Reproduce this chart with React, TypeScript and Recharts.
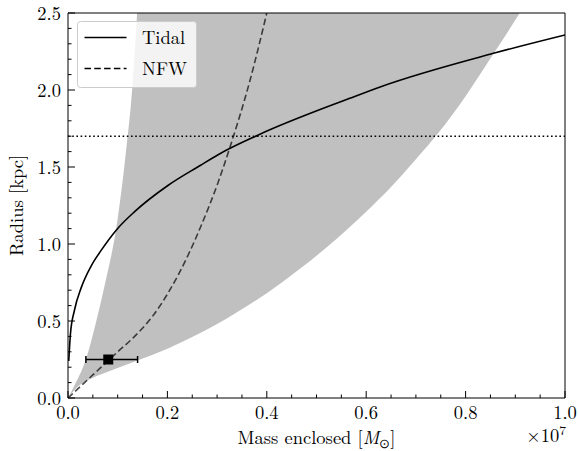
import React from 'react';
import {
  ComposedChart,
  Area,
  Line,
  Scatter,
  ErrorBar,
  XAxis,
  YAxis,
  ReferenceLine,
  Legend,
  Label,
} from 'recharts';

// mass in units of 1e7 Msun, radius in kpc
const bandLeftEdge = [
  { m: 0, r: 0 },
  { m: 0.016, r: 0.1 },
  { m: 0.036, r: 0.25 },
  { m: 0.057, r: 0.5 },
  { m: 0.075, r: 0.75 },
  { m: 0.097, r: 1.1 },
  { m: 0.117, r: 1.61 },
  { m: 0.129, r: 2.0 },
  { m: 0.139, r: 2.5 },
  { m: 0.148, r: 3.1 },
  { m: 1.0, r: 3.1 },
];

const bandLowerEdge = [
  { m: 0, r: 0 },
  { m: 0.02, r: 0.075 },
  { m: 0.04, r: 0.115 },
  { m: 0.08, r: 0.17 },
  { m: 0.141, r: 0.245 },
  { m: 0.2, r: 0.32 },
  { m: 0.3, r: 0.48 },
  { m: 0.433, r: 0.757 },
  { m: 0.514, r: 0.961 },
  { m: 0.6, r: 1.21 },
  { m: 0.65, r: 1.37 },
  { m: 0.7, r: 1.55 },
  { m: 0.745, r: 1.72 },
  { m: 0.8, r: 1.96 },
  { m: 0.856, r: 2.235 },
  { m: 0.909, r: 2.5 },
  { m: 1.0, r: 3.0 },
];

const tidal = [
  { m: 0.0015, r: 0.24 },
  { m: 0.005, r: 0.42 },
  { m: 0.013, r: 0.57 },
  { m: 0.027, r: 0.72 },
  { m: 0.047, r: 0.86 },
  { m: 0.067, r: 0.96 },
  { m: 0.097, r: 1.09 },
  { m: 0.134, r: 1.21 },
  { m: 0.201, r: 1.38 },
  { m: 0.266, r: 1.51 },
  { m: 0.302, r: 1.58 },
  { m: 0.383, r: 1.708 },
  { m: 0.567, r: 1.946 },
  { m: 0.628, r: 2.02 },
  { m: 0.856, r: 2.238 },
  { m: 1.0, r: 2.357 },
];

const nfw = [
  { m: 0, r: 0 },
  { m: 0.035, r: 0.105 },
  { m: 0.07, r: 0.21 },
  { m: 0.1, r: 0.3 },
  { m: 0.134, r: 0.4 },
  { m: 0.17, r: 0.53 },
  { m: 0.201, r: 0.68 },
  { m: 0.242, r: 0.93 },
  { m: 0.268, r: 1.12 },
  { m: 0.302, r: 1.4 },
  { m: 0.326, r: 1.63 },
  { m: 0.366, r: 2.06 },
  { m: 0.4, r: 2.5 },
];

const measured = [{ m: 0.081, r: 0.25, err: [0.045, 0.059] }];

const truncRadius = 1.7;

const legendOrder = ['Tidal', 'NFW'];

const xTicks = [
  0, 0.05, 0.1, 0.15, 0.2, 0.25, 0.3, 0.35, 0.4, 0.45, 0.5, 0.55, 0.6, 0.65,
  0.7, 0.75, 0.8, 0.85, 0.9, 0.95, 1.0,
];
const yTicks = [
  0, 0.1, 0.2, 0.3, 0.4, 0.5, 0.6, 0.7, 0.8, 0.9, 1.0, 1.1, 1.2, 1.3, 1.4, 1.5,
  1.6, 1.7, 1.8, 1.9, 2.0, 2.1, 2.2, 2.3, 2.4, 2.5,
];

const FONT = "'Latin Modern Roman'";
const FS = 18.5;
const txt = { fontFamily: FONT, fontSize: FS };
const MAJ = 7;
const MIN = 3.5;

const isMajor = (v: number, step: number) =>
  Math.abs(v / step - Math.round(v / step)) < 1e-6;

function BottomTick({ x, y, payload }: any) {
  const major = isMajor(payload.value, 0.2);
  return (
    <g>
      <line x1={x} x2={x} y1={y} y2={y - (major ? MAJ : MIN)} stroke='#000' strokeWidth={1} />
      {major && (
        <text x={x} y={y + 20.5} textAnchor='middle' style={txt} fill='#000'>
          {payload.value.toFixed(1)}
        </text>
      )}
    </g>
  );
}

function TopTick({ x, y, payload }: any) {
  const major = isMajor(payload.value, 0.2);
  return <line x1={x} x2={x} y1={y} y2={y + (major ? MAJ : MIN)} stroke='#000' strokeWidth={1} />;
}

function LeftTick({ x, y, payload }: any) {
  const major = isMajor(payload.value, 0.5);
  return (
    <g>
      <line x1={x} x2={x + (major ? MAJ : MIN)} y1={y} y2={y} stroke='#000' strokeWidth={1} />
      {major && (
        <text x={x - 7} y={y + 6.5} textAnchor='end' style={txt} fill='#000'>
          {payload.value.toFixed(1)}
        </text>
      )}
    </g>
  );
}

function RightTick({ x, y, payload }: any) {
  const major = isMajor(payload.value, 0.5);
  return <line x1={x} x2={x - (major ? MAJ : MIN)} y1={y} y2={y} stroke='#000' strokeWidth={1} />;
}

function LegendBox({ payload }: any) {
  const items = (payload || [])
    .filter((p: any) => legendOrder.includes(p.value))
    .sort((a: any, b: any) => legendOrder.indexOf(a.value) - legendOrder.indexOf(b.value));
  return (
    <svg width={121} height={68} style={{ display: 'block' }}>
      <rect x={0.5} y={0.5} width={119} height={66} rx={3} fill='rgba(255,255,255,0.8)' stroke='#cccccc' />
      {items.map((p: any, i: number) => {
        const cy = 16.5 + i * 31;
        const dash = p.payload?.strokeDasharray;
        return (
          <g key={p.value}>
            <line x1={7.5} x2={49.5} y1={cy} y2={cy} stroke='#000' strokeWidth={1.6} strokeDasharray={dash} />
            <text x={65} y={cy + 6.5} style={txt} fill='#000'>
              {p.value}
            </text>
          </g>
        );
      })}
    </svg>
  );
}

export default function App() {
  return (
    <div style={{ position: 'absolute', left: 0, top: 0 }}>
      <ComposedChart
        width={578}
        height={451}
        margin={{ top: 12, right: 12, bottom: 52, left: 67 }}
      >
        <XAxis
          xAxisId='b'
          type='number'
          dataKey='m'
          domain={[0, 1]}
          ticks={xTicks}
          interval={0}
          height={1}
          tickSize={0}
          tickMargin={0}
          tickLine={false}
          tick={(p: any) => <BottomTick {...p} />}
          axisLine={{ stroke: '#000', strokeWidth: 1 }}
          allowDataOverflow
        >
          <Label
            content={({ viewBox }: any) => (
              <text
                x={viewBox.x + viewBox.width / 2}
                y={viewBox.y + 46}
                textAnchor='middle'
                style={txt}
                fill='#000'
              >
                Mass enclosed [<tspan fontStyle='italic'>M</tspan>
                <tspan fontSize={13} dy={4}>⊙</tspan>
                <tspan dy={-4}>]</tspan>
              </text>
            )}
          />
          <Label
            content={({ viewBox }: any) => (
              <text
                x={viewBox.x + viewBox.width + 1}
                y={viewBox.y + 44}
                textAnchor='end'
                style={txt}
                fill='#000'
              >
                ×10<tspan fontSize={13.5} dy={-7}>7</tspan>
              </text>
            )}
          />
        </XAxis>
        <XAxis
          xAxisId='t'
          orientation='top'
          type='number'
          domain={[0, 1]}
          ticks={xTicks}
          interval={0}
          height={1}
          tickSize={0}
          tickMargin={0}
          tickLine={false}
          tick={(p: any) => <TopTick {...p} />}
          axisLine={{ stroke: '#000', strokeWidth: 1 }}
        />
        <YAxis
          yAxisId='l'
          type='number'
          domain={[0, 2.5]}
          ticks={yTicks}
          interval={0}
          width={1}
          tickSize={0}
          tickMargin={0}
          tickLine={false}
          tick={(p: any) => <LeftTick {...p} />}
          axisLine={{ stroke: '#000', strokeWidth: 1 }}
          allowDataOverflow
        >
          <Label
            content={({ viewBox }: any) => {
              const cx = viewBox.x - 44;
              const cy = viewBox.y + viewBox.height / 2;
              return (
                <text
                  x={cx}
                  y={cy}
                  transform={`rotate(-90, ${cx}, ${cy})`}
                  textAnchor='middle'
                  style={txt}
                  fill='#000'
                >
                  Radius [kpc]
                </text>
              );
            }}
          />
        </YAxis>
        <YAxis
          yAxisId='r'
          orientation='right'
          type='number'
          domain={[0, 2.5]}
          ticks={yTicks}
          interval={0}
          width={1}
          tickSize={0}
          tickMargin={0}
          tickLine={false}
          tick={(p: any) => <RightTick {...p} />}
          axisLine={{ stroke: '#000', strokeWidth: 1 }}
        />

        <Area
          xAxisId='b'
          yAxisId='l'
          data={bandLeftEdge}
          dataKey='r'
          type='monotone'
          stroke='none'
          fill='#c0c0c0'
          fillOpacity={1}
          legendType='none'
          isAnimationActive={false}
          dot={false}
          activeDot={false}
        />
        <Area
          xAxisId='b'
          yAxisId='l'
          data={bandLowerEdge}
          dataKey='r'
          type='monotone'
          stroke='none'
          fill='#ffffff'
          fillOpacity={1}
          legendType='none'
          isAnimationActive={false}
          dot={false}
          activeDot={false}
        />
        <ReferenceLine
          xAxisId='b'
          yAxisId='l'
          y={truncRadius}
          stroke='#000'
          strokeWidth={1.6}
          strokeDasharray='1.6 2.6'
        />
        <Line
          xAxisId='b'
          yAxisId='l'
          name='Tidal'
          data={tidal}
          dataKey='r'
          type='monotone'
          stroke='#000'
          strokeWidth={1.6}
          dot={false}
          activeDot={false}
          isAnimationActive={false}
        />
        <Line
          xAxisId='b'
          yAxisId='l'
          name='NFW'
          data={nfw}
          dataKey='r'
          type='monotone'
          stroke='#000'
          strokeOpacity={0.7}
          strokeWidth={1.6}
          strokeDasharray='6.5 3.3'
          dot={false}
          activeDot={false}
          isAnimationActive={false}
        />
        <Scatter
          xAxisId='b'
          yAxisId='l'
          data={measured}
          dataKey='r'
          legendType='none'
          isAnimationActive={false}
          shape={(p: any) => (
            <rect x={p.cx - 5} y={p.cy - 5} width={10} height={10} fill='#000' />
          )}
        >
          <ErrorBar dataKey='err' direction='x' width={3.5} stroke='#000' strokeWidth={1.5} isAnimationActive={false} />
        </Scatter>
        <Legend
          layout='vertical'
          verticalAlign='middle'
          align='center'
          content={(p: any) => <LegendBox {...p} />}
          wrapperStyle={{ left: 77, top: 21, width: 121, height: 68 }}
        />
      </ComposedChart>
    </div>
  );
}
